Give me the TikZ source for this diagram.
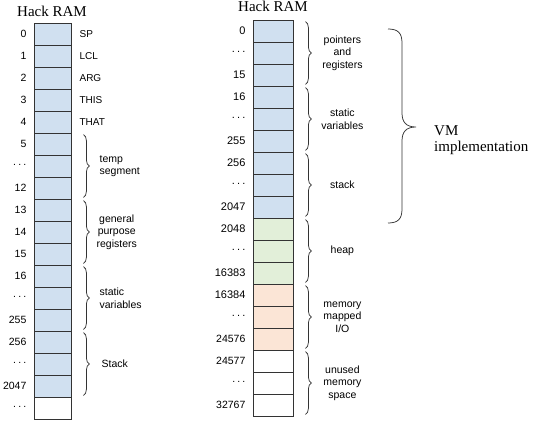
\documentclass[tikz,border=0pt]{standalone}
\usepackage{fontspec}
\setmainfont{Liberation Serif}
\newfontfamily\ramsans{Liberation Sans}
\usetikzlibrary{decorations.pathreplacing}
\definecolor{ramblue}{RGB}{208,224,240}
\definecolor{ramgreen}{RGB}{226,239,217}
\definecolor{ramorange}{RGB}{251,229,214}
\newcommand{\skipdots}{\raisebox{2pt}{.\hspace{2.2pt}.\hspace{2.2pt}.}}

\begin{document}
\begin{tikzpicture}[x=1pt, y=-1pt,
		cell/.style={draw=black!80, line width=0.8pt, minimum height=22pt, inner sep=0pt},
		addr/.style={anchor=east, inner sep=0pt, font=\ramsans\fontsize{10.5}{12}\selectfont},
		regname/.style={anchor=west, inner sep=0pt, font=\ramsans\fontsize{10}{12}\selectfont},
		seg/.style={inner sep=0pt, font=\ramsans\fontsize{10.5}{12.5}\selectfont},
		curly/.style={decorate, decoration={brace, amplitude=6pt}, draw=black!80, line width=0.75pt},
		title/.style={anchor=base, inner sep=0pt, font=\fontsize{15}{18}\selectfont}]
		\useasboundingbox (0,0) rectangle (545,420);
		% left column
		\node[title] (ltitle) at (52,17) {Hack RAM};
		\foreach \i in {0,...,16}
			\node[cell, minimum width=37pt, fill=ramblue] (L\i) at (52.5,34+22*\i) {};
		\node[cell, minimum width=37pt, fill=white] (L17) at (52.5,34+22*17) {};
		\foreach \t [count=\i from 0] in {0,1,2,3,4,5,\skipdots,12,13,14,15,16,\skipdots,255,256,\skipdots,2047,\skipdots}
			\node[addr] (la\i) at ([xshift=-7pt]L\i.west) {\t};
		\foreach \t [count=\i from 0] in {SP,LCL,ARG,THIS,THAT}
			\node[regname] (ln\i) at ([xshift=8pt]L\i.east) {\t};
		\draw[curly] ([xshift=12pt,yshift=-2pt]L5.north east) -- ([xshift=12pt,yshift=2pt]L7.south east);
		\draw[curly] ([xshift=12pt,yshift=-2pt]L8.north east) -- ([xshift=12pt,yshift=2pt]L10.south east);
		\draw[curly] ([xshift=12pt,yshift=-2pt]L11.north east) -- ([xshift=12pt,yshift=2pt]L13.south east);
		\draw[curly] ([xshift=12pt,yshift=-2pt]L14.north east) -- ([xshift=12pt,yshift=2pt]L16.south east);
		\node[seg, anchor=west, align=left] (temp) at ([xshift=28pt]L6.east) {temp\\segment};
		\node[seg, anchor=west, align=center] (gpr) at ([xshift=25pt]L9.east) {general\\purpose\\registers};
		\node[seg, anchor=west, align=left] (lstatic) at ([xshift=28pt]L12.east) {static\\variables};
		\node[seg, anchor=west] (lstack) at ([xshift=30pt]L15.east) {Stack};
		% right column
		\node[title] (rtitle) at (273,11.5) {Hack RAM};
		\foreach \i in {0,...,8}
			\node[cell, minimum width=40pt, fill=ramblue] (R\i) at (273,31+22*\i) {};
		\foreach \i in {9,10,11}
			\node[cell, minimum width=40pt, fill=ramgreen] (R\i) at (273,31+22*\i) {};
		\foreach \i in {12,13,14}
			\node[cell, minimum width=40pt, fill=ramorange] (R\i) at (273,31+22*\i) {};
		\foreach \i in {15,16,17}
			\node[cell, minimum width=40pt, fill=white] (R\i) at (273,31+22*\i) {};
		\foreach \t [count=\i from 0] in {0,\skipdots,15,16,\skipdots,255,256,\skipdots,2047,2048,\skipdots,16383,16384,\skipdots}
			\node[addr, font=\ramsans\fontsize{11}{12}\selectfont] (ra\i) at ([xshift=-7pt]R\i.west) {\t};
		\foreach \t [count=\i from 14] in {24576,24577,\skipdots,32767}
			\node[addr, font=\ramsans\fontsize{10.5}{12}\selectfont] (ra\i) at ([xshift=-7pt]R\i.west) {\t};
		\foreach \a/\b in {0/2,3/5,6/8,9/11,12/14,15/17}
			\draw[curly] ([xshift=12pt,yshift=-2pt]R\a.north east) -- ([xshift=12pt,yshift=2pt]R\b.south east);
		\node[seg, align=center] (ptr) at ([xshift=49pt]R1.east) {pointers\\and\\registers};
		\node[seg, align=center] (rstatic) at ([xshift=49pt]R4.east) {static\\variables};
		\node[seg] (rstack) at ([xshift=49pt]R7.east) {stack};
		\node[seg] (heap) at ([xshift=49pt]R10.east) {heap};
		\node[seg, align=center] (mmio) at ([xshift=49pt]R13.east) {memory\\mapped\\I/O};
		\node[seg, align=center] (unused) at ([xshift=49pt]R16.east) {unused\\memory\\space};
		% VM brace
		\coordinate (vmtop) at (388,29);
		\coordinate (vmtip) at (416,127);
		\coordinate (vmbot) at (388,223);
		\draw[black!80, line width=0.75pt] (vmtop) .. controls (398,29) and (402,33) .. (402,43)
			-- (402,113) .. controls (402,122) and (406,127) .. (vmtip)
			.. controls (406,127) and (402,132) .. (402,141)
			-- (402,209) .. controls (402,219) and (398,223) .. (vmbot);
		\node[anchor=west, align=left, inner sep=0pt, font=\fontsize{15}{16.5}\selectfont] (vm) at (434,140) {VM\\implementation};
	\end{tikzpicture}
\end{document}
